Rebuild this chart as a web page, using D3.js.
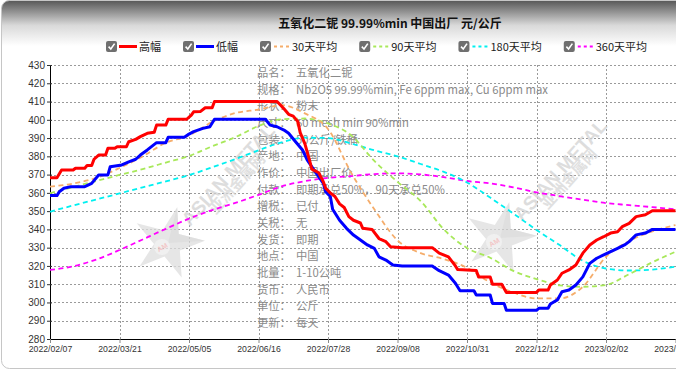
<!DOCTYPE html>
<html><head><meta charset="utf-8">
<script src="https://cdn.jsdelivr.net/npm/d3@7"></script>
<style>body{margin:0;background:#fff}svg{display:block}</style>
</head><body>
<svg id="c" width="676" height="372"></svg>
<script>
// ---------------- data ----------------
const title = "五氧化二铌 99.99%min 中国出厂 元/公斤";
const xTickIdx = [0, 30, 60, 90, 120, 150, 180, 210, 240, 270];
const xTickLabels = ["2022/02/07","2022/03/21","2022/05/05","2022/06/16","2022/07/28","2022/09/08","2022/10/31","2022/12/12","2023/02/02","2023/03/16"];
const yTicks = [280,290,300,310,320,330,340,350,360,370,380,390,400,410,420,430];

const legendNames = ["高幅","低幅","30天平均","90天平均","180天平均","360天平均"];

// high price (index of trading day, value)
const highPts = [[0,368.3],[3,368.3],[5,372.5],[10,372.5],[11,373.5],[15,373.5],[16,375],[18,375],[19,378.4],[21,380.7],[24,380.7],[25,384.4],[28,384.4],[29,385.3],[33,385.3],[34,388],[37,389.3],[39,390.8],[42,392.6],[45,393.2],[46,397.1],[50,397.1],[51,400.3],[59,400.3],[61,402.6],[62,404.4],[65,404.6],[67,406.6],[70,406.6],[71,410],[98,410],[101,406],[103,403],[105,402],[107,399],[108,393],[110,387],[112,378],[113,373],[116,371],[118,366],[119,362.5],[121,360],[123,358],[125,354],[127,352],[129,347],[131,345],[134,343.5],[135,340.6],[139,340],[142,335],[145,333.3],[147,330.5],[152,330],[165,330],[168,327],[172,325],[175,320],[176,318],[184,317.5],[185,314],[190,314],[191,310],[195,310],[197,305.5],[210,305.5],[211,306.8],[215,306.8],[216,309.6],[219,312.3],[221,316],[224,317.8],[227,320.5],[230,327],[233,331.5],[236,334.2],[239,336],[242,338],[245,338.7],[247,341.5],[250,343.3],[253,347],[257,348],[260,350.2],[270,350.2]];
// low price
const lowPts = [[0,358.5],[3,358.5],[4,360.6],[6,362.5],[9,363.4],[15,363.4],[18,365.2],[21,369.8],[25,369.8],[26,374.3],[31,375.3],[34,377],[37,378.4],[39,380.7],[42,383.5],[46,387.5],[50,387.5],[51,390.4],[58,390.4],[60,392.2],[62,393.5],[66,395.3],[69,396.2],[71,400.3],[93,400.3],[95,397.1],[98,396.2],[101,394.4],[103,392.6],[106,388],[109,383.5],[111,378],[115,370.7],[118,365.2],[119,360.6],[121,358],[122,351],[125,345],[128,340.6],[131,336.9],[134,334.2],[137,331.5],[140,329.6],[142,325],[145,323.2],[148,320.5],[152,320],[165,320],[168,317.4],[172,315],[175,310.5],[177,306.4],[183,306.4],[184,304.1],[190,304.1],[191,299.5],[196,299.5],[197,295.7],[210,295.7],[211,296.8],[215,296.8],[216,299.2],[219,301.4],[221,305.9],[224,306.8],[227,309.6],[230,314],[233,321.4],[236,324.2],[239,326],[242,327.8],[245,329.6],[248,331.5],[250,333.3],[253,337],[257,338],[260,340],[270,340]];

// moving averages, sampled every 10 trading days
const maIdx = [0,10,20,30,40,50,60,70,80,90,100,110,120,130,140,150,160,170,180,190,200,210,220,230,240,250,260,270];
const ma30  = [363.4,365.1,368.2,373.6,380,387.4,391.4,398.8,403.7,405.6,408,403.5,395,371,351,334,327,323.8,319,311,305.5,302.2,302.2,308.6,325,333.6,338.9,342.4];
const ma90  = [359.8,363.2,366.5,369.8,373,376.6,380.2,385.5,390.5,396.6,400.3,400.7,398,391.5,377.5,366,355.5,340,329.8,324.5,317.3,312.8,309.4,308.6,309.6,315.5,322,327.8];
const ma180 = [349.7,353.1,356.4,359.7,363,366.3,369.7,374,378.5,383.3,387.7,390.2,390,387,383.3,380,375.8,371.5,365.7,357.4,348.7,339.7,331.4,322.8,318.6,317.5,318,319.6];
const ma360 = [317.8,319.8,323.5,328.7,334.5,340.3,345.9,350.6,354.5,358.9,363.6,366.4,368.2,369.2,370.3,370.7,370.1,368.6,366.5,365.2,363,360.3,358.2,356.3,354.4,353.3,352.2,351];

const infoLabels = ["品名：","规格：","形状：","尺寸：","包装：","产地：","作价：","付款：","增税：","关税：","发货：","地点：","批量：","货币：","单位：","更新："];
const infoValues = ["五氧化二铌","Nb2O5 99.99%min, Fe 6ppm max, Cu 6ppm max","粉末","60 mesh min 90%min","50公斤/铁桶","中国","中国出厂价","即期承兑50%，90天承兑50%","已付","无","即期","中国","1-10公吨","人民币","公斤","每天"];

// ---------------- drawing ----------------
const W = 676, H = 372;
const svg = d3.select("#c");
const defs = svg.append("defs");
const grad = defs.append("linearGradient").attr("id","hdr").attr("x1",0).attr("y1",0).attr("x2",0).attr("y2",1);
grad.append("stop").attr("offset","0").attr("stop-color","#545454");
grad.append("stop").attr("offset","0.55").attr("stop-color","#d9d9d9");
grad.append("stop").attr("offset","1").attr("stop-color","#ffffff");
defs.append("clipPath").attr("id","frame").append("rect")
  .attr("x",1.5).attr("y",0.5).attr("width",720).attr("height",368).attr("rx",8);

const root = svg.append("g").attr("clip-path","url(#frame)");
root.append("rect").attr("x",0).attr("y",0).attr("width",W).attr("height",H).attr("fill","#fff");
root.append("rect").attr("x",0).attr("y",0).attr("width",W).attr("height",46).attr("fill","url(#hdr)");
svg.append("rect").attr("x",1.5).attr("y",0.5).attr("width",720).attr("height",368).attr("rx",8)
  .attr("fill","none").attr("stroke","#c6c6c6").attr("stroke-width",1);

const x = d3.scaleLinear().domain([0,270]).range([50,675.5]);
const y = d3.scaleLinear().domain([280,430]).range([339,65]);

// title
svg.append("text").attr("x",390).attr("y",28).attr("text-anchor","middle")
  .attr("font-family","'Noto Sans CJK SC','Noto Sans',sans-serif").attr("font-weight","bold")
  .attr("font-size",12).attr("fill","#111").text(title);

// legend
const colors = ["#ff0000","#0000ff","#f5ad6b","#a8e85a","#00f0f0","#ff00ff"];
const dashed = [false,false,true,true,true,true];
let lx = 106;
const lg = svg.append("g");
legendNames.forEach((name,i)=>{
  const g = lg.append("g").attr("transform",`translate(${lx},0)`);
  g.append("rect").attr("x",0).attr("y",41).attr("width",11).attr("height",11).attr("rx",2).attr("fill","#6f6f6f");
  g.append("path").attr("d","M2.6,46.6 L4.8,49 L8.6,43.6").attr("fill","none").attr("stroke","#fff").attr("stroke-width",1.6);
  if(!dashed[i]){
    g.append("line").attr("x1",13).attr("x2",31).attr("y1",46.5).attr("y2",46.5).attr("stroke",colors[i]).attr("stroke-width",3);
  } else {
    g.append("line").attr("x1",14).attr("x2",29).attr("y1",46.5).attr("y2",46.5).attr("stroke",colors[i]).attr("stroke-width",2).attr("stroke-dasharray","3,3");
  }
  const t = g.append("text").attr("x", dashed[i]?32:33).attr("y",50.5)
    .attr("font-family","'Noto Sans CJK SC','Noto Sans',sans-serif").attr("font-size",11).attr("fill","#222").text(name);
  const tw = t.node().getComputedTextLength();
  lx += (dashed[i]?32:33) + tw + 22;
});

// grid
const grid = svg.append("g").attr("stroke","#9a9a9a").attr("stroke-width",1).attr("stroke-dasharray","2,2");
yTicks.filter(v=>v>280).forEach(v=>{
  grid.append("line").attr("x1",50).attr("x2",W).attr("y1",Math.round(y(v))+0.5).attr("y2",Math.round(y(v))+0.5);
});
xTickIdx.filter(v=>v>0).forEach(v=>{
  grid.append("line").attr("x1",Math.round(x(v))+0.5).attr("x2",Math.round(x(v))+0.5).attr("y1",65).attr("y2",339);
});

// info text (under lines)
const info = svg.append("g").attr("font-family","'Noto Sans CJK SC','Noto Sans',sans-serif").attr("font-size",11.3).attr("fill","#8a8a8a");
infoLabels.forEach((lab,i)=>{
  const cy = 73 + i*16.67;
  info.append("text").attr("x",257).attr("y",cy+4).text(lab);
  info.append("text").attr("x",296).attr("y",cy+4).text(infoValues[i]);
});

// watermarks
function starPath(R, r){
  const pts=[];
  for(let k=0;k<10;k++){
    const a = -Math.PI/2 + k*Math.PI/5 + 0.25;
    const rr = k%2===0?R:r;
    pts.push([rr*Math.cos(a), rr*Math.sin(a)]);
  }
  return "M"+pts.map(p=>p.join(",")).join("L")+"Z";
}
function watermark(cx, cy){
  const g = svg.append("g").attr("transform",`translate(${cx},${cy})`).attr("opacity",0.75);
  g.append("path").attr("d",starPath(37,14)).attr("fill","#dedede");
  g.append("path").attr("d","M0,0 L"+starPath(37,14).slice(1).split("L").slice(0,3).join("L")+"Z").attr("fill","#cfcfcf").attr("opacity",0.6);
  g.append("circle").attr("cx",-6).attr("cy",4).attr("r",8).attr("fill","#ececec");
  g.append("text").attr("x",-6).attr("y",7).attr("text-anchor","middle").attr("font-size",7).attr("font-weight","bold")
    .attr("font-family","Liberation Sans, Arial, sans-serif").attr("fill","#efb4b4").attr("transform","rotate(-30,-6,4)").text("AM");
  g.append("text").attr("transform","translate(22,-16) rotate(-48)")
    .attr("font-family","Liberation Sans, Arial, sans-serif").attr("font-weight","bold").attr("font-size",19)
    .attr("fill","#d2d2d2").text("ASIAN METAL");
  g.append("text").attr("transform","translate(48,-28) rotate(-48)")
    .attr("font-family","'Noto Sans CJK SC',sans-serif").attr("font-weight","bold").attr("font-size",15)
    .attr("fill","#d6d6d6").text("亚洲金属网");
}
watermark(168,243);
watermark(500,238);

// axes
const yAxis = svg.append("g").attr("transform","translate(50,0)")
  .call(d3.axisLeft(y).tickValues(yTicks).tickSize(3).tickPadding(2).tickFormat(d3.format("d")));
yAxis.select(".domain").attr("stroke","#000").attr("d","M0.5,65V339.5");
yAxis.selectAll(".tick line").attr("stroke","#333").attr("x1",2);
yAxis.selectAll("text").attr("font-family","Liberation Sans, Arial, sans-serif").attr("font-size",10).attr("fill","#333");

const xAxis = svg.append("g").attr("transform","translate(0,339)")
  .call(d3.axisBottom(x).tickValues(xTickIdx).tickSize(4).tickPadding(3).tickFormat((d,i)=>xTickLabels[i]));
xAxis.select(".domain").attr("stroke","#000").attr("d","M50,0.5H676");
xAxis.selectAll(".tick line").attr("stroke","#888");
xAxis.selectAll("text").attr("font-family","Liberation Sans, Arial, sans-serif").attr("font-size",8.7).attr("fill","#333");

// lines
const plot = svg.append("g");
const maLine = d3.line().x((d,i)=>x(maIdx[i])).y(d=>y(d)).curve(d3.curveMonotoneX);
[[ma360,5],[ma180,4],[ma90,3],[ma30,2]].forEach(([arr,ci])=>{
  plot.append("path").attr("d",maLine(arr)).attr("fill","none").attr("stroke",colors[ci])
    .attr("stroke-width",1.8).attr("stroke-dasharray","5,3.5");
});
const pLine = d3.line().x(d=>x(d[0])).y(d=>y(d[1]));
plot.append("path").attr("d",pLine(lowPts)).attr("fill","none").attr("stroke",colors[1]).attr("stroke-width",3).attr("stroke-linejoin","round");
plot.append("path").attr("d",pLine(highPts)).attr("fill","none").attr("stroke",colors[0]).attr("stroke-width",3).attr("stroke-linejoin","round");
</script>
</body></html>
